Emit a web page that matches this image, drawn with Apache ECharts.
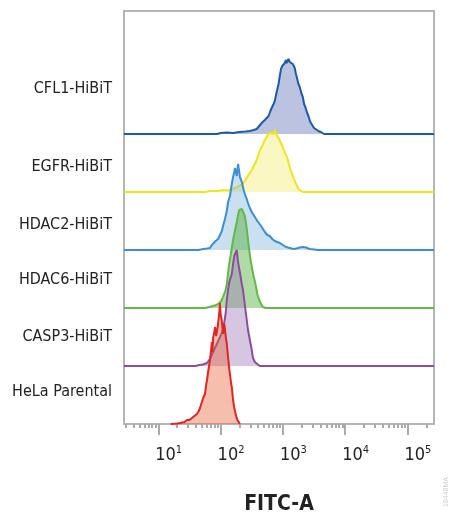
<!DOCTYPE html>
<html>
<head>
<meta charset="utf-8">
<style>
  html, body { margin: 0; padding: 0; background: #fff; }
  #main { width: 450px; height: 518px; }
</style>
<script src="https://cdn.jsdelivr.net/npm/echarts@6/dist/echarts.min.js"></script>
</head>
<body>
<div id="main"></div>
<script>
// FITC-A histograms, x = log10(intensity), y = relative count
var categories = ['CFL1-HiBiT', 'EGFR-HiBiT', 'HDAC2-HiBiT', 'HDAC6-HiBiT', 'CASP3-HiBiT', 'HeLa Parental'];
var tickLabels = ['1', '2', '3', '4', '5'];
var decades = [1, 2, 3, 4, 5];

var cfl1 = [[1.95,0],[2.0,1],[2.1,1.5],[2.2,1],[2.3,2],[2.4,2.5],[2.47,3],[2.53,4],[2.58,5],[2.62,8],[2.64,7],[2.66,11],[2.69,12],[2.71,14],[2.73,13],[2.74,16],[2.77,18],[2.8,23],[2.82,26],[2.85,30],[2.87,33],[2.9,42],[2.93,50],[2.95,58],[2.97,65],[2.99,68],[3.0,66],[3.01,70],[3.03,71],[3.05,74],[3.06,71],[3.07,73],[3.09,75],[3.11,72],[3.13,73],[3.16,70],[3.19,66],[3.21,60],[3.23,55],[3.25,50],[3.27,47],[3.3,40],[3.32,37],[3.33,38],[3.34,30],[3.36,27],[3.39,21],[3.41,18],[3.44,12],[3.47,9],[3.5,6],[3.53,4],[3.57,3],[3.61,2],[3.66,0]];
var egfr = [[1.75,0],[1.83,1],[1.95,1],[2.05,2],[2.12,1.5],[2.2,3],[2.27,5],[2.33,7],[2.38,10],[2.42,14],[2.46,18],[2.5,22],[2.54,27],[2.58,32],[2.61,38],[2.64,43],[2.67,46],[2.7,51],[2.72,52],[2.74,55],[2.76,58],[2.78,56],[2.8,59],[2.82,57],[2.85,58],[2.87,62],[2.89,60],[2.91,56],[2.94,53],[2.96,50],[2.99,46],[3.02,41],[3.05,37],[3.08,32],[3.1,27],[3.13,21],[3.16,16],[3.19,11],[3.22,7],[3.25,3],[3.28,1],[3.32,0]];
var hdac2 = [[1.65,0],[1.72,1],[1.78,1.5],[1.83,2],[1.86,5],[1.88,7],[1.92,9],[1.96,11],[1.99,15],[2.02,19],[2.04,24],[2.07,31],[2.1,39],[2.12,48],[2.15,54],[2.17,62],[2.18,66],[2.2,73],[2.22,78],[2.23,82],[2.25,77],[2.26,74],[2.27,80],[2.28,86],[2.3,78],[2.31,73],[2.33,70],[2.35,66],[2.37,60],[2.39,56],[2.42,51],[2.44,47],[2.47,42],[2.5,38],[2.53,35],[2.56,32],[2.59,29],[2.62,27],[2.65,24],[2.68,21],[2.71,18],[2.75,15],[2.79,14],[2.83,11],[2.87,9],[2.91,8],[2.95,7],[3.0,5],[3.05,3],[3.11,2],[3.17,1],[3.22,1.5],[3.27,2.5],[3.32,3],[3.37,2.5],[3.43,1],[3.5,0.5],[3.56,0]];
var hdac6 = [[1.75,0],[1.82,1],[1.88,2],[1.93,3],[1.98,5],[2.02,8],[2.05,13],[2.08,18],[2.1,24],[2.12,35],[2.14,45],[2.16,52],[2.18,60],[2.2,68],[2.22,74],[2.24,80],[2.26,86],[2.28,93],[2.3,98],[2.32,96],[2.34,99],[2.36,101],[2.37,97],[2.39,92],[2.41,84],[2.43,74],[2.45,63],[2.47,53],[2.49,45],[2.51,38],[2.53,32],[2.56,24],[2.59,14],[2.62,8],[2.65,4],[2.68,1],[2.72,0]];
var casp3 = [[1.6,0],[1.66,1],[1.72,1.5],[1.78,3],[1.83,7],[1.88,14],[1.94,22],[1.99,29],[2.02,33],[2.04,37],[2.06,44],[2.08,52],[2.1,66],[2.12,76],[2.14,84],[2.16,88],[2.18,92],[2.2,102],[2.22,110],[2.24,113],[2.26,116],[2.28,104],[2.3,102],[2.32,90],[2.34,82],[2.36,76],[2.38,66],[2.4,56],[2.42,46],[2.44,36],[2.47,26],[2.5,16],[2.52,8],[2.55,4],[2.58,2],[2.63,0]];
var hela = [[1.2,0],[1.3,0.5],[1.35,1],[1.42,2],[1.46,4],[1.5,4],[1.54,6],[1.58,8],[1.62,10],[1.65,13],[1.67,16],[1.7,22],[1.72,26],[1.75,30],[1.77,40],[1.78,43],[1.8,52],[1.82,60],[1.83,64],[1.85,75],[1.86,82],[1.87,72],[1.88,86],[1.9,92],[1.91,97],[1.93,88],[1.94,90],[1.96,100],[1.98,112],[1.99,121],[2.0,110],[2.02,103],[2.03,96],[2.04,90],[2.06,100],[2.07,98],[2.09,84],[2.1,80],[2.12,67],[2.14,55],[2.15,50],[2.17,40],[2.18,37],[2.2,24],[2.22,16],[2.23,14],[2.25,8],[2.27,4],[2.31,0]];

(function () {
  var myChart = echarts.init(document.getElementById('main'));
  var font = "'Liberation Sans Narrow', 'DejaVu Sans Condensed', Roboto, sans-serif";
  var xMin = 0.45, xMax = 5.425;
  var rowGap = 58;
  // row settings: data, line colour, fill colour, full-width baseline?
  var rows = [
    { d: cfl1,  line: '#1d5aa8', fill: 'rgba(92,112,183,0.6)',  full: true },
    { d: egfr,  line: '#f0e41a', fill: 'rgba(242,235,110,0.6)', full: true },
    { d: hdac2, line: '#3b8fd1', fill: 'rgba(128,180,220,0.6)', full: true },
    { d: hdac6, line: '#63b946', fill: 'rgba(68,170,42,0.6)',   full: true },
    { d: casp3, line: '#8c4d9f', fill: 'rgba(160,120,183,0.6)', full: true },
    { d: hela,  line: '#e32420', fill: 'rgba(232,100,60,0.6)',  full: false }
  ];
  // label heights (from bottom of plot)
  var labelAt = [335, 257, 199, 144, 87, 32];

  var minorTicks = [];
  [0, 1, 2, 3, 4, 5].forEach(function (e) {
    [2, 3, 4, 5, 6, 7, 8, 9].forEach(function (k) {
      var v = e + Math.log10(k);
      if (v > xMin && v < xMax) minorTicks.push(v);
    });
  });

  var series = rows.map(function (r, i) {
    var base = (rows.length - 1 - i) * rowGap;
    var pts = r.d.map(function (p) { return [p[0], base + p[1]]; });
    if (r.full) {
      pts.unshift([xMin, base]);
      pts.push([xMax, base]);
    }
    return {
      name: categories[i],
      type: 'line',
      data: pts,
      symbol: 'none',
      lineStyle: { color: r.line, width: 2 },
      areaStyle: { color: r.fill, origin: base },
      z: 2 + i
    };
  });

  var option = {
    animation: false,
    grid: {
      left: 124, top: 11, width: 310, height: 413,
      outerBoundsMode: 'none',
      show: true, borderColor: '#b5b5b5', borderWidth: 2
    },
    xAxis: [
      {
        type: 'value', min: xMin, max: xMax,
        axisLine: { show: false },
        splitLine: { show: false },
        axisTick: { show: true, customValues: decades, length: 11, lineStyle: { color: '#aaa', width: 2 } },
        axisLabel: {
          customValues: decades,
          margin: 21,
          align: 'left',
          padding: [0, 0, 0, -3],
          formatter: function (v) {
            var i = decades.indexOf(Math.round(v));
            return '{b|10}{s|' + tickLabels[i] + '}';
          },
          rich: {
            b: { fontSize: 18, fontFamily: font, color: '#222', lineHeight: 20 },
            s: { fontSize: 11, fontFamily: font, color: '#222', verticalAlign: 'top', lineHeight: 20 }
          }
        },
        name: 'FITC-A',
        nameLocation: 'middle',
        nameGap: 70,
        nameTextStyle: { fontSize: 21, fontWeight: 'bold', fontFamily: font, color: '#222' }
      },
      {
        type: 'value', min: xMin, max: xMax, position: 'bottom',
        axisLine: { show: false },
        splitLine: { show: false },
        axisLabel: { show: false },
        axisTick: { show: true, customValues: minorTicks, length: 4, lineStyle: { color: '#aaa', width: 2 } }
      }
    ],
    yAxis: {
      type: 'value', min: 0, max: 413,
      axisLine: { show: false },
      axisTick: { show: false },
      splitLine: { show: false },
      axisLabel: {
        customValues: labelAt,
        margin: 12,
        fontSize: 16,
        fontFamily: font,
        color: '#222',
        formatter: function (v) {
          var i = labelAt.indexOf(v);
          return categories[i];
        }
      }
    },
    graphic: [{
      type: 'text', x: 446, y: 492, rotation: Math.PI / 2,
      style: { text: '18448MA', fill: '#cfcfcf', font: '7px sans-serif', align: 'center', verticalAlign: 'middle' }
    }],
    series: series
  };
  myChart.setOption(option);
  window.addEventListener('resize', function () {
    myChart.resize();
  });
})();
</script>
</body>
</html>
